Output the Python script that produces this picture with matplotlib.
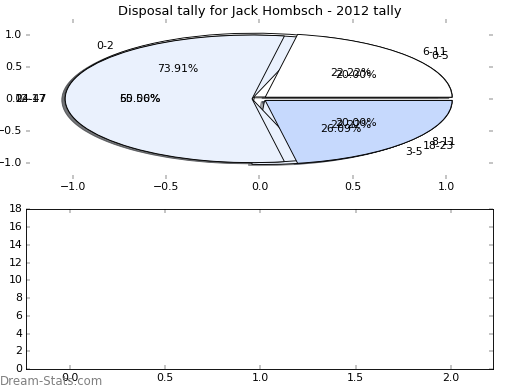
import matplotlib
matplotlib.use("Agg")
import matplotlib.pyplot as plt

plt.style.use("classic")

# three tallies drawn over each other on the same axes
counts_a = [17, 6]
labels_a = ["0-2", "3-5"]
counts_b = [1, 3, 1]
labels_b = ["0-5", "24-47", "8-11"]
counts_c = [2, 5, 2]
labels_c = ["6-11", "12-17", "18-23"]

slice_colors = ["#ffffff", "#eaf1fd", "#c6d9fd"]

fig = plt.figure(figsize=(8, 6), dpi=65)
fig.subplots_adjust(left=0.05, right=0.948, top=0.951, bottom=0.054, hspace=0.194)

ax1 = fig.add_subplot(2, 1, 1)
for counts, labels in [(counts_a, labels_a), (counts_b, labels_b), (counts_c, labels_c)]:
    ax1.pie(counts, labels=labels, colors=slice_colors[:len(counts)],
            explode=[0.04] * len(counts), autopct="%1.2f%%", shadow=True)
ax1.set_aspect("auto")
ax1.set_xlim(-1.25, 1.25)
ax1.set_ylim(-1.25, 1.25)
ax1.set_xticks([-1.0, -0.5, 0.0, 0.5, 1.0])
ax1.set_yticks([-1.0, -0.5, 0.0, 0.5, 1.0])
ax1.set_title("Disposal tally for Jack Hombsch - 2012 tally", fontsize=14.4)

ax2 = fig.add_subplot(2, 1, 2)
ax2.set_xlim(-0.23, 2.22)
ax2.set_ylim(0, 18)
ax2.set_xticks([0.0, 0.5, 1.0, 1.5, 2.0])
ax2.set_yticks(range(0, 19, 2))

fig.text(0.0, 0.012, "Dream-Stats.com", color="#808080", fontsize=13)

fig.savefig("out.png", dpi=65)
